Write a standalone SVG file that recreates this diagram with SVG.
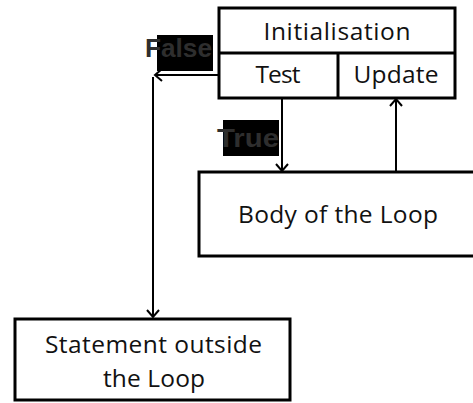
<svg xmlns="http://www.w3.org/2000/svg" width="473" height="403" viewBox="0 0 473 403">
<style>
.box{fill:#fff;stroke:#000;stroke-width:3}
.div{stroke:#000;stroke-width:3;fill:none}
.t{font-family:"Open Sans","Liberation Sans",sans-serif;font-size:24.5px;fill:#111}
.c{stroke:#000;stroke-width:2;fill:none}
.lbl{font-family:"Liberation Sans",Arial,sans-serif;font-weight:bold;font-size:26px;fill:#2e2e2e}
</style>
<defs>
<marker id="ah" markerUnits="userSpaceOnUse" markerWidth="20" markerHeight="20" viewBox="-10 -10 20 20" refX="0" refY="0" orient="auto">
<path d="M-7,-6 L0,0 L-7,6" fill="none" stroke="#000" stroke-width="2"/>
</marker>
</defs>
<g id="labels">
<rect x="157" y="35" width="56" height="36" fill="#000"/>
<text class="lbl" x="145" y="57" textLength="67" lengthAdjust="spacingAndGlyphs">False</text>
<rect x="223" y="120" width="56" height="36" fill="#000"/>
<text class="lbl" x="217" y="147" textLength="62" lengthAdjust="spacingAndGlyphs">True</text>
</g>
<g id="connectors">
<line class="c" x1="219" y1="75" x2="155" y2="75" marker-end="url(#ah)"/>
<line class="c" x1="153" y1="77" x2="153" y2="317" marker-end="url(#ah)"/>
<line class="c" x1="282" y1="98" x2="282" y2="171" marker-end="url(#ah)"/>
<line class="c" x1="396" y1="172" x2="396" y2="99" marker-end="url(#ah)"/>
</g>
<g id="loop-header">
<rect class="box" x="219" y="8" width="236" height="90"/>
<line class="div" x1="219" y1="53" x2="455" y2="53"/>
<line class="div" x1="338" y1="53" x2="338" y2="98"/>
<text class="t" x="337" y="40" text-anchor="middle" textLength="147" lengthAdjust="spacing">Initialisation</text>
<text class="t" x="278" y="83" text-anchor="middle" textLength="45" lengthAdjust="spacing">Test</text>
<text class="t" x="396" y="83" text-anchor="middle" textLength="85" lengthAdjust="spacing">Update</text>
</g>
<g id="body">
<rect class="box" x="199" y="172" width="290" height="84"/>
<text class="t" x="338" y="223" text-anchor="middle" textLength="200" lengthAdjust="spacing">Body of the Loop</text>
</g>
<g id="statement">
<rect class="box" x="15" y="319" width="275" height="81"/>
<text class="t" x="153.5" y="353" text-anchor="middle" textLength="217" lengthAdjust="spacing">Statement outside</text>
<text class="t" x="154" y="387" text-anchor="middle" textLength="102" lengthAdjust="spacing">the Loop</text>
</g>
</svg>
